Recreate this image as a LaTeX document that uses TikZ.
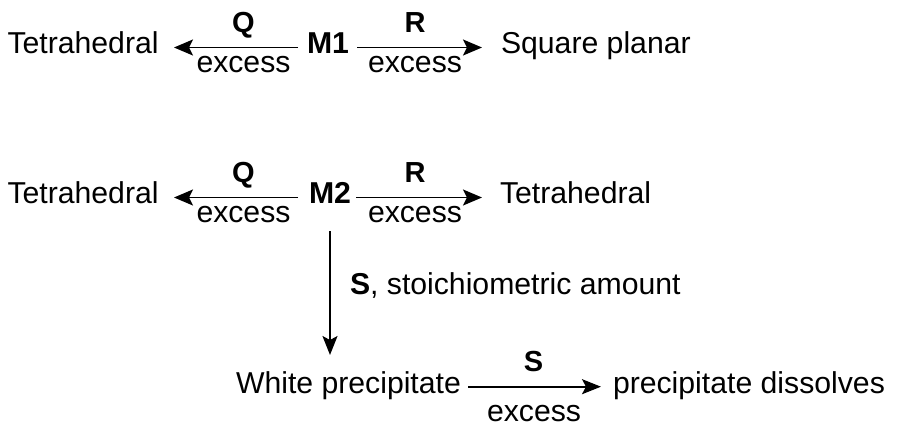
\documentclass[tikz,border=0pt]{standalone}
\usepackage{fontspec}
\setmainfont{Liberation Sans}
\usetikzlibrary{arrows.meta}
\begin{document}
\begin{tikzpicture}[x=1pt,y=-1pt,
  every node/.style={inner sep=0pt,outer sep=0pt,font=\fontsize{30.2}{33}\selectfont},
  txt/.style={anchor=base west},
  lbl/.style={anchor=base,font=\fontsize{29}{33}\selectfont\bfseries},
  exc/.style={anchor=base},
  arr/.style={line width=1.9pt,-{Stealth[length=19pt,width=16pt,inset=4pt]}},
  varr/.style={line width=1.4pt,-{Stealth[length=19pt,width=15pt,inset=4pt]}}]
\useasboundingbox (0,0) rectangle (900,431);
% row 1
\node[txt] (T1) at (7.5,53.3) {Tetrahedral};
\node[anchor=base,font=\fontsize{30.2}{33}\selectfont\bfseries] (M1) at (328,53.3) {M1};
\node[txt] (SP) at (501,53.3) {Square planar};
\coordinate (a1s) at (298,47.5);
\coordinate (a1e) at (174,47.5);
\coordinate (b1s) at (357,47.5);
\coordinate (b1e) at (482,47.5);
\draw[arr] (a1s) -- (a1e);
\draw[arr] (b1s) -- (b1e);
\node[lbl] (Q1) at (243.5,32.3) {Q};
\node[lbl] (R1) at (415,32.3) {R};
\node[exc] (e1) at (243.5,72) {excess};
\node[exc] (e2) at (415,72) {excess};
% row 2
\node[txt] (T2) at (7.5,203.3) {Tetrahedral};
\node[anchor=base,font=\fontsize{30.2}{33}\selectfont\bfseries] (M2) at (330,203.3) {M2};
\node[txt] (T3) at (500,203.3) {Tetrahedral};
\coordinate (a2s) at (298,197.5);
\coordinate (a2e) at (174,197.5);
\coordinate (b2s) at (356,197.5);
\coordinate (b2e) at (482,197.5);
\draw[arr] (a2s) -- (a2e);
\draw[arr] (b2s) -- (b2e);
\node[lbl] (Q2) at (243.5,182.3) {Q};
\node[lbl] (R2) at (415,182.3) {R};
\node[exc] (e3) at (243.5,222) {excess};
\node[exc] (e4) at (415,222) {excess};
% vertical
\coordinate (vs) at (330,231);
\coordinate (ve) at (330,355);
\draw[varr] (vs) -- (ve);
\node[txt] (St) at (350,294) {\textbf{S}, stoichiometric amount};
% row 3
\node[txt] (WP) at (236,393.3) {White precipitate};
\node[txt] (PD) at (613,393.3) {precipitate dissolves};
\coordinate (cs) at (468,386.7);
\coordinate (ce) at (601,386.7);
\draw[varr,line width=1.6pt] (cs) -- (ce);
\node[lbl] (S2) at (533.5,371.7) {S};
\node[exc] (e5) at (534,421.7) {excess};
\end{tikzpicture}
\end{document}
